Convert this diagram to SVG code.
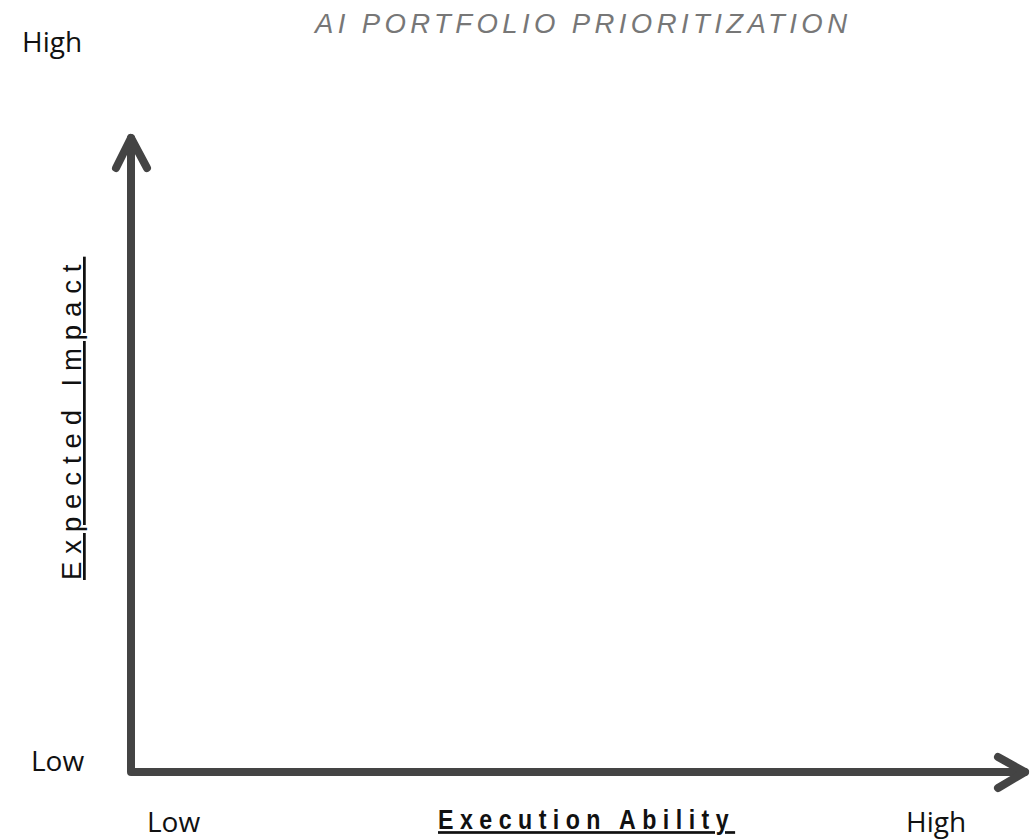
<svg xmlns="http://www.w3.org/2000/svg" width="1031" height="839" viewBox="0 0 1031 839">
<style>
.lbl{font-family:"Open Sans","Noto Sans",sans-serif;font-size:28px;fill:#111}
.ax{stroke:#444;stroke-width:8;fill:none;stroke-linecap:round;stroke-linejoin:round}
</style>
<rect width="1031" height="839" fill="#fff"/>
<text x="315" y="33" font-family="Liberation Sans,Arial,sans-serif" font-size="27.5" font-style="italic" fill="#777" textLength="532" lengthAdjust="spacing">AI PORTFOLIO PRIORITIZATION</text>
<g id="connectors">
<path class="ax" d="M131 138 V772 H1025"/>
<path class="ax" d="M116 168 L131 138 L147 168"/>
<path class="ax" d="M998 757 L1025 772 L998 788"/>
</g>
<g id="y-high"><text class="lbl" x="22" y="52">High</text></g>
<g id="y-low"><text class="lbl" x="31" y="771">Low</text></g>
<g id="x-low"><text class="lbl" x="147" y="832">Low</text></g>
<g id="x-high"><text class="lbl" x="906" y="832">High</text></g>
<g id="x-title"><text transform="translate(438 829) scale(0.86 1)" font-family="Liberation Sans,Arial,sans-serif" font-weight="bold" font-size="27" letter-spacing="7.5" fill="#111" text-decoration="underline">Execution Ability</text></g>
<g id="y-title"><text transform="translate(81 580) rotate(-90)" font-family="Liberation Sans,Arial,sans-serif" font-size="27.5" letter-spacing="7.9" fill="#111" text-decoration="underline">Expected Impact</text></g>
</svg>
